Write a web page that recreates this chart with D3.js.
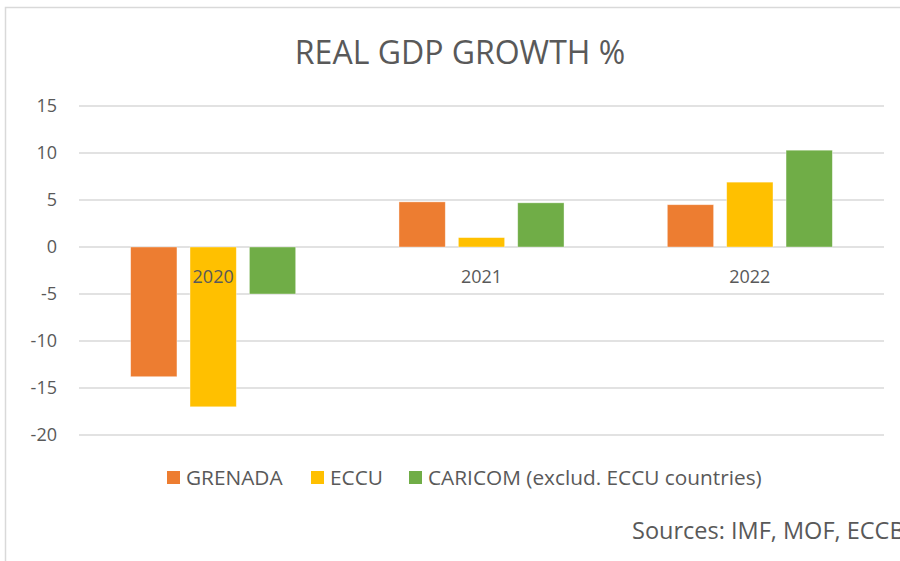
<!DOCTYPE html>
<html>
<head>
<meta charset="utf-8">
<script src="https://cdn.jsdelivr.net/npm/d3@7"></script>
<style>
  body { margin: 0; background: #fff; }
  svg text { font-family: "Open Sans", sans-serif; fill: #595959; }
</style>
</head>
<body>
<div id="chart"></div>
<script>
// chart data
const years = ["2020", "2021", "2022"];
const seriesNames = ["GRENADA", "ECCU", "CARICOM (exclud. ECCU countries)"];
const grenada = [-13.8, 4.8, 4.5];
const eccu = [-17.0, 1.0, 6.9];
const caricom = [-5.0, 4.7, 10.3];
const yTicks = [15, 10, 5, 0, -5, -10, -15, -20];
const colors = ["#ED7D31", "#FFC000", "#70AD47"];

const allSeries = [grenada, eccu, caricom];

const width = 900, height = 561;
const margin = {top: 106, right: 16, bottom: 126, left: 79};

const svg = d3.select("#chart").append("svg")
    .attr("width", width)
    .attr("height", height);

// outer chart border (cut off on the right / bottom like the screenshot)
svg.append("rect")
    .attr("x", 5.5).attr("y", 7.5)
    .attr("width", width + 10).attr("height", height + 10)
    .attr("fill", "none")
    .attr("stroke", "#D9D9D9")
    .attr("stroke-width", 1.5);

// title
svg.append("text")
    .attr("x", 460).attr("y", 64)
    .attr("text-anchor", "middle")
    .style("font-size", "32px")
    .text("REAL GDP GROWTH %");

const plotW = width - margin.left - margin.right;
const plotH = height - margin.top - margin.bottom;

const g = svg.append("g")
    .attr("transform", `translate(${margin.left},${margin.top})`);

let x0 = d3.scaleBand().domain(years).range([0, plotW]).padding(0);
let x1 = d3.scaleBand().domain(d3.range(seriesNames.length))
    .range([0, x0.bandwidth()])
    .paddingInner(0.22)
    .paddingOuter(0.87);
let y = d3.scaleLinear().domain([-20, 15]).range([plotH, 0]);

// gridlines
g.append("g")
    .selectAll("line")
    .data(yTicks)
    .enter()
    .append("line")
    .attr("x1", 0).attr("x2", plotW)
    .attr("y1", d => y(d)).attr("y2", d => y(d))
    .attr("stroke", "#D9D9D9")
    .attr("stroke-width", 1.5);

// y axis labels (plain hyphen for negatives, like the original)
let yAxis = g.append("g")
    .call(d3.axisLeft(y).tickValues(yTicks).tickSize(0).tickPadding(22)
        .tickFormat(d => String(d)));
yAxis.select(".domain").remove();
yAxis.selectAll("text")
    .style("font-size", "18px")
    .attr("fill", "#595959");

// bars
years.forEach((yr, i) => {
    allSeries.forEach((s, j) => {
        g.append("rect")
            .attr("x", x0(yr) + x1(j))
            .attr("y", y(Math.max(0, s[i])))
            .attr("width", x1.bandwidth())
            .attr("height", Math.abs(y(s[i]) - y(0)))
            .attr("fill", colors[j])
            .attr("stroke", "#fff")
            .attr("stroke-opacity", 0.5)
            .attr("stroke-width", 0.75);
    });
});

// category labels next to zero line
g.append("g")
    .selectAll("text")
    .data(years)
    .enter()
    .append("text")
    .attr("x", d => x0(d) + x0.bandwidth() / 2)
    .attr("y", y(0) + 36)
    .attr("text-anchor", "middle")
    .style("font-size", "18px")
    .text(d => d);

// legend
const legendX = [167, 311, 409];
const legend = svg.append("g");
seriesNames.forEach((name, j) => {
    legend.append("rect")
        .attr("x", legendX[j]).attr("y", 471)
        .attr("width", 13).attr("height", 13)
        .attr("fill", colors[j]);
    legend.append("text")
        .attr("x", legendX[j] + 19).attr("y", 485)
        .style("font-size", "20.8px")
        .text(name);
});

// source note
svg.append("text")
    .attr("x", 632).attr("y", 539)
    .style("font-size", "23.5px")
    .text("Sources: IMF, MOF, ECCB");
</script>
</body>
</html>
